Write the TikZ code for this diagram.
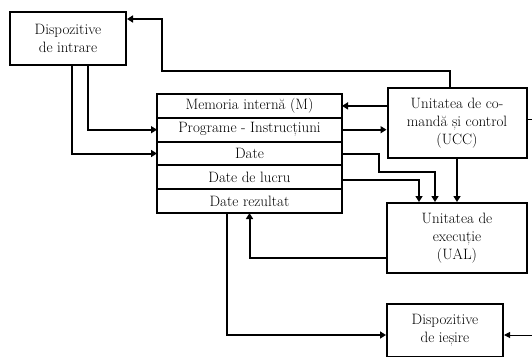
\documentclass[tikz,border=0pt]{standalone}
\usetikzlibrary{positioning,arrows.meta}

\tikzset{
  box/.style={draw, line width=2pt, align=center, inner sep=0pt,
    font=\fontsize{15}{18}\selectfont},
  memrow/.style={box, outer sep=0pt, minimum width=185pt, minimum height=23.8pt},
  arr/.style={line width=2pt, -{Triangle[length=6pt,width=7pt]}},
  thinarr/.style={line width=1pt, -{Triangle[length=6pt,width=6pt]}}
}

\begin{document}
\begin{tikzpicture}[x=1pt, y=-1pt]
  \useasboundingbox (0,0) rectangle (532,356);

  % units
  \node (in) [box, minimum width=116pt, minimum height=53pt] at (68,38.5)
    {Dispozitive\\de intrare};
  \node (ucc) [box, minimum width=139pt, minimum height=70pt] at (457,123)
    {Unitatea de co-\\mandă și control\\(UCC)};
  \node (ual) [box, minimum width=140pt, minimum height=70pt] at (457,238)
    {Unitatea de\\execuție\\(UAL)};
  \node (out) [box, minimum width=116pt, minimum height=53pt] at (445,330.5)
    {Dispozitive\\de ieșire};

  % memoria interna
  \node (mem1) [memrow] at (249.5,105.9) {Memoria internă (M)};
  \node (mem2) [memrow, below=0pt of mem1] {Programe - Instrucțiuni};
  \node (mem3) [memrow, below=0pt of mem2] {Date};
  \node (mem4) [memrow, below=0pt of mem3] {Date de lucru};
  \node (mem5) [memrow, below=0pt of mem4] {Date rezultat};

  \coordinate (c1) at (162,71);
  \coordinate (b1) at (379,172);

  % legaturi
  \draw[arr] ([xshift=-7pt]ucc.north) |- (c1) |- ([yshift=19.5pt]in.east);
  \draw[arr] ([xshift=20pt]in.south) |- (mem2.west);
  \draw[arr] ([xshift=4pt]in.south) |- (mem3.west);
  \draw[arr] (ucc.west |- mem1.east) -- (mem1.east);
  \draw[arr] (mem2.east) -- (mem2.east -| ucc.west);
  \draw[arr] (mem3.east) -| (b1) -| ([xshift=-22pt]ual.north);
  \draw[arr] ([yshift=-3pt]mem4.east) -| ([xshift=-38pt]ual.north);
  \draw[arr] (ucc.south) -- (ual.north);
  \draw[arr] ([yshift=-20pt]ual.west) -| (mem5.south);
  \draw[arr] ([xshift=-22.5pt]mem5.south) |- ([yshift=-4.5pt]out.west);
  \draw[thinarr] ([yshift=4pt]ucc.east) -- ++(15,0) |- ([yshift=-4.5pt]out.east);
\end{tikzpicture}
\end{document}
